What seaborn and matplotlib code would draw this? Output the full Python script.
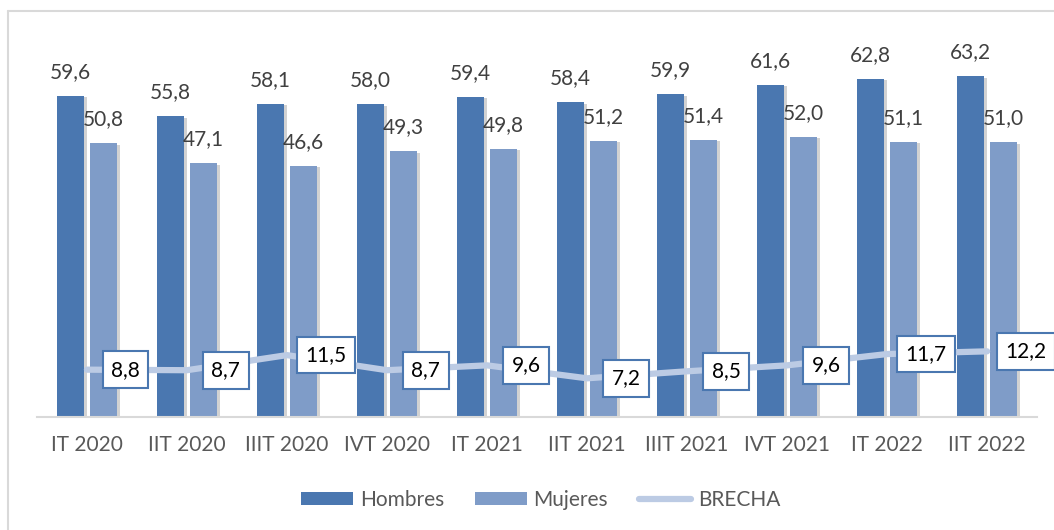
import numpy as np
import pandas as pd
import matplotlib
matplotlib.use("Agg")
import matplotlib.pyplot as plt
import matplotlib.patheffects as pe
from matplotlib.patches import Patch
from matplotlib.lines import Line2D
import seaborn as sns

categories = ["IT 2020", "IIT 2020", "IIIT 2020", "IVT 2020", "IT 2021",
              "IIT 2021", "IIIT 2021", "IVT 2021", "IT 2022", "IIT 2022"]
hombres = [59.6, 55.8, 58.1, 58.0, 59.4, 58.4, 59.9, 61.6, 62.8, 63.2]
mujeres = [50.8, 47.1, 46.6, 49.3, 49.8, 51.2, 51.4, 52.0, 51.1, 51.0]
brecha = [8.8, 8.7, 11.5, 8.7, 9.6, 7.2, 8.5, 9.6, 11.7, 12.2]
series = ["Hombres", "Mujeres"]

C_H = "#4a77b0"
C_M = "#7f9cc8"
C_B = "#bccbe4"

sns.set_theme(style="white")
plt.rcParams["font.family"] = ["Lato", "DejaVu Sans"]

FS = 15

df = pd.DataFrame({
    "cat": categories * 2,
    "serie": [series[0]] * len(categories) + [series[1]] * len(categories),
    "valor": hombres + mujeres,
})

fig = plt.figure(figsize=(10.54, 5.30), dpi=100)
ax = fig.add_axes([0.035, 0.213, 0.949, 0.712])

sns.barplot(data=df, x="cat", y="valor", hue="serie", order=categories,
            hue_order=series, palette=[C_H, C_M], width=0.66, gap=0.18,
            saturation=1, ax=ax, legend=False)

shadow = [pe.SimplePatchShadow(offset=(2, -1), shadow_rgbFace="#808080", alpha=0.35), pe.Normal()]
for p in ax.patches:
    p.set_path_effects(shadow)
    p.set_linewidth(0)

for cont in ax.containers:
    ax.bar_label(cont, labels=[f"{v:.1f}".replace(".", ",") for v in cont.datavalues],
                 padding=10, fontsize=FS, color="#404040")

x = np.arange(len(categories))
sns.lineplot(x=x, y=brecha, color=C_B, linewidth=4.5, ax=ax, legend=False,
             solid_capstyle="round")

for xi, v in zip(x, brecha):
    ax.annotate(f"{v:.1f}".replace(".", ","), (xi, v), xytext=(28, 0),
                textcoords="offset points", ha="center", va="center",
                fontsize=FS, color="black", zorder=5,
                bbox=dict(boxstyle="square,pad=0.4", fc="white", ec=C_H, lw=1.5),
                annotation_clip=False)

ax.set_ylim(0, 70)
ax.set_xlim(-0.5, len(categories) - 0.5)
ax.set_xlabel("")
ax.set_ylabel("")
ax.set_yticks([])
for s in ["top", "right", "left"]:
    ax.spines[s].set_visible(False)
ax.spines["bottom"].set_color("#d9d9d9")
ax.spines["bottom"].set_linewidth(1.5)
ax.tick_params(axis="x", length=0, pad=13, labelsize=FS, labelcolor="#595959")

handles = [Patch(facecolor=C_H, edgecolor="none"),
           Patch(facecolor=C_M, edgecolor="none"),
           Line2D([0], [0], color=C_B, lw=4.5, solid_capstyle="round")]
fig.legend(handles, ["Hombres", "Mujeres", "BRECHA"], loc="center",
           bbox_to_anchor=(0.513, 0.057), ncol=3, frameon=False,
           fontsize=FS, labelcolor="#595959", handlelength=2.5,
           handleheight=0.65, handletextpad=0.3, columnspacing=1.5)

fig.add_artist(Line2D([8 / 1054, 8 / 1054], [0, 1 - 11 / 530], color="#d9d9d9", lw=1.5,
                      transform=fig.transFigure))
fig.add_artist(Line2D([8 / 1054, 1], [1 - 11 / 530, 1 - 11 / 530], color="#d9d9d9", lw=1.5,
                      transform=fig.transFigure))

fig.savefig("out.png", dpi=100)
